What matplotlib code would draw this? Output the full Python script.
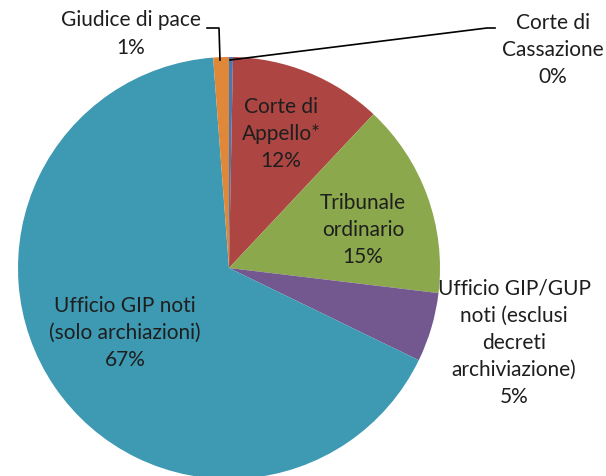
import matplotlib.pyplot as plt

# slice data (clockwise from 12 o'clock)
names = ['Corte di\nCassazione', 'Corte di\nAppello*', 'Tribunale\nordinario',
         'Ufficio GIP/GUP\nnoti (esclusi\ndecreti\narchiviazione)',
         'Ufficio GIP noti\n(solo archiazioni)', 'Giudice di pace']
values = [0.3, 11.7, 14.9, 5.3, 66.6, 1.2]
colors = ['#4A77B0', '#AD4643', '#8CA84C', '#72588F', '#3D9AB2', '#E0883A']

# label centres in pixels (from top-left), per slice
label_pos = [(553, 50), (281, 134), (363, 230), (514, 343), (125, 333), (131, 34)]

plt.rcParams['font.family'] = ['Lato', 'DejaVu Sans']

W, H = 606, 476
fig = plt.figure(figsize=(W / 100, H / 100), dpi=100)
ax = fig.add_axes([0, 0, 1, 1])

ax.pie(values, colors=colors, startangle=90, counterclock=False,
       center=(229, H - 268), radius=211, frame=True,
       wedgeprops=dict(linewidth=0))
ax.set_xlim(0, W)
ax.set_ylim(0, H)
ax.set_aspect('equal')
ax.axis('off')

for name, v, (x, y) in zip(names, values, label_pos):
    ax.text(x, H - y, f'{name}\n{round(v):.0f}%', ha='center', va='center',
            fontsize=15, color='#1e1e1e', linespacing=1.45)

# leader lines
ax.plot([230, 487, 495], [H - 60, H - 28, H - 28], color='black', lw=1.2)
ax.plot([207, 219, 220], [H - 28, H - 28, H - 60], color='black', lw=1.2)

fig.savefig('out.png', dpi=100)
